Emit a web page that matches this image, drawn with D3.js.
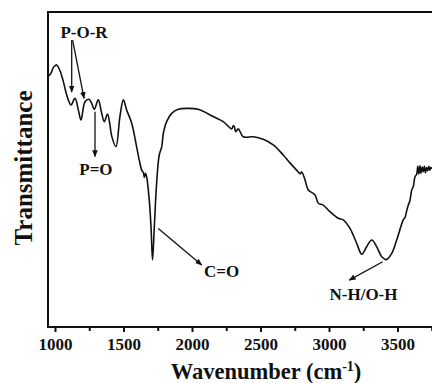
<!DOCTYPE html>
<html>
<head>
<meta charset="utf-8">
<script src="https://cdn.jsdelivr.net/npm/d3@7"></script>
<style>
  body { margin: 0; background: #fff; }
  text { font-family: "Liberation Serif", "Times New Roman", serif; font-weight: bold; }
</style>
</head>
<body>
<div id="wrapper"></div>
<script>
const LINE_COLOR = "#111";

// FTIR spectrum: wavenumber (cm-1) and transmittance (arb. units)
const wavenumbers = [
  949, 970, 990, 1012, 1035, 1061, 1080, 1097, 1117, 1146, 1170, 1190, 1219, 1248,
  1268, 1287, 1316, 1340, 1360, 1383, 1400, 1414, 1445, 1474, 1499, 1523, 1560, 1596,
  1615, 1633, 1645, 1652, 1660, 1669, 1688, 1701, 1712, 1725, 1742, 1761, 1779, 1791,
  1815, 1852, 1900, 1961, 2046, 2155, 2228, 2290, 2300, 2307, 2320, 2338, 2374, 2447,
  2520, 2593, 2666, 2715, 2764, 2790, 2800, 2825, 2849, 2885, 2900, 2922, 2958, 3007,
  3068, 3104, 3153, 3202, 3239, 3275, 3312, 3348, 3385, 3420, 3458, 3494, 3542, 3555,
  3565, 3579, 3590, 3604, 3615, 3628, 3640, 3648, 3656, 3664, 3672, 3680, 3688, 3696,
  3704, 3712, 3720, 3728, 3736, 3744, 3752, 3770, 3790
];
const transmittance = [
  79.5, 80.5, 82.5, 83.2, 81.5, 77.9, 74.5, 72.1, 70.5, 72.6, 69.0, 65.7, 71.5, 72.3,
  71.0, 69.1, 72.1, 68.0, 65.2, 67.6, 64.5, 60.6, 57.3, 66.8, 72.1, 68.9, 64.7, 57.2,
  53.0, 49.8, 49.0, 47.5, 48.8, 47.7, 40.3, 31.8, 21.3, 31.8, 45.7, 54.6, 57.2, 61.5,
  65.2, 67.8, 69.1, 69.4, 69.1, 66.8, 65.2, 62.9, 63.8, 63.8, 62.0, 62.9, 60.4, 60.4,
  59.6, 57.8, 54.6, 52.1, 49.8, 48.6, 49.3, 46.7, 43.5, 42.4, 41.8, 39.3, 38.7, 36.6,
  34.5, 34.0, 31.3, 26.6, 23.1, 25.5, 27.6, 25.5, 22.3, 21.4, 23.4, 27.6, 34.0, 34.8,
  36.5, 38.7, 40.0, 43.5, 44.5, 47.7, 48.5, 51.0, 48.6, 51.2, 48.8, 50.8, 49.3, 51.0,
  49.0, 50.6, 49.6, 51.0, 49.8, 50.6, 50.4, 51.5, 52.0
];

const xTicks = [1000, 1250, 1500, 1750, 2000, 2250, 2500, 2750, 3000, 3250, 3500, 3750];
const xTickLabels = [1000, 1500, 2000, 2500, 3000, 3500];

// band labels: arrow start/end and text anchor, in data units
const annotationLabels = ["P-O-R", "P=O", "C=O", "N-H/O-H"];
const annotationText = [[1212, 91.7], [1299, 48.3], [2088, 15.9], [3252, 8.6]];
const annotationArrows = [
  [[[1122, 91.1], [1122, 74.6]], [[1129, 91.1], [1212, 72.6]]],
  [[[1292, 68.3], [1292, 54.1]]],
  [[[1754, 31.3], [2071, 19.7]]],
  [[[3392, 20.7], [3148, 14.9]]]
];
const annotationAnchor = ["middle", "middle", "start", "middle"];

function drawSpectrum() {
  const data = wavenumbers.map((w, i) => ({ w: w, t: transmittance[i] }));

  const dimensions = {
    width: 432,
    height: 383,
    margin: { top: 12, left: 48, bottom: 56 }
  };
  dimensions.boundedHeight = dimensions.height - dimensions.margin.top - dimensions.margin.bottom;

  const svg = d3.select("#wrapper")
    .append("svg")
    .attr("width", dimensions.width)
    .attr("height", dimensions.height);

  const defs = svg.append("defs");
  defs.append("marker")
    .attr("id", "arrow")
    .attr("viewBox", "0 0 10 10")
    .attr("refX", 9)
    .attr("refY", 5)
    .attr("markerWidth", 7)
    .attr("markerHeight", 7)
    .attr("markerUnits", "userSpaceOnUse")
    .attr("orient", "auto")
    .append("path")
    .attr("d", "M0,1 L10,5 L0,9 Z")
    .attr("fill", LINE_COLOR);

  // 137 px per 1000 cm-1, plot runs off the right side of the picture
  const xScale = d3.scaleLinear()
    .domain([949, 4000])
    .range([dimensions.margin.left, dimensions.margin.left + 3051 * 0.137]);

  const yScale = d3.scaleLinear()
    .domain([0, 100])
    .range([dimensions.margin.top + dimensions.boundedHeight, dimensions.margin.top]);

  const bottom = yScale(0);

  // x axis with minor ticks
  const xAxisGenerator = d3.axisBottom(xScale)
    .tickValues(xTicks)
    .tickSize(5)
    .tickFormat(d => xTickLabels.includes(d) ? d : "");

  const xAxis = svg.append("g")
    .attr("transform", `translate(0, ${bottom})`)
    .call(xAxisGenerator);
  xAxis.select(".domain").remove();
  xAxis.selectAll(".tick line")
    .attr("stroke", LINE_COLOR)
    .attr("stroke-width", 2)
    .attr("y2", d => xTickLabels.includes(d) ? 5 : 4);
  xAxis.selectAll(".tick text")
    .attr("y", 11)
    .attr("fill", LINE_COLOR)
    .style("font-size", "17px")
    .style("font-family", "Liberation Serif, serif")
    .style("font-weight", "bold");

  // frame
  svg.append("rect")
    .attr("x", xScale(949))
    .attr("y", yScale(100))
    .attr("width", xScale(4000) - xScale(949))
    .attr("height", bottom - yScale(100))
    .attr("fill", "none")
    .attr("stroke", LINE_COLOR)
    .attr("stroke-width", 2);

  const lineGenerator = d3.line()
    .x(d => xScale(d.w))
    .y(d => yScale(d.t))
    .curve(d3.curveCatmullRom.alpha(0.5));

  svg.append("path")
    .datum(data)
    .attr("d", lineGenerator)
    .attr("fill", "none")
    .attr("stroke", LINE_COLOR)
    .attr("stroke-width", 1.6)
    .attr("stroke-linejoin", "round");

  // annotations
  annotationLabels.forEach((label, i) => {
    annotationArrows[i].forEach(([a, b]) => {
      svg.append("line")
        .attr("x1", xScale(a[0]))
        .attr("y1", yScale(a[1]))
        .attr("x2", xScale(b[0]))
        .attr("y2", yScale(b[1]))
        .attr("stroke", LINE_COLOR)
        .attr("stroke-width", 1.3)
        .attr("marker-end", "url(#arrow)");
    });
    svg.append("text")
      .attr("x", xScale(annotationText[i][0]))
      .attr("y", yScale(annotationText[i][1]))
      .attr("text-anchor", annotationAnchor[i])
      .attr("fill", LINE_COLOR)
      .style("font-size", "17px")
      .text(label);
  });

  // axis titles
  const xTitle = svg.append("text")
    .attr("x", 266)
    .attr("y", 379)
    .attr("text-anchor", "middle")
    .attr("fill", LINE_COLOR)
    .style("font-size", "22.5px");
  xTitle.append("tspan").text("Wavenumber (cm");
  xTitle.append("tspan").attr("dy", -8).style("font-size", "14px").text("-1");
  xTitle.append("tspan").attr("dy", 8).text(")");

  svg.append("text")
    .attr("transform", `translate(32, ${168}) rotate(-90)`)
    .attr("text-anchor", "middle")
    .attr("fill", LINE_COLOR)
    .style("font-size", "25px")
    .text("Transmittance");
}

drawSpectrum();
</script>
</body>
</html>
